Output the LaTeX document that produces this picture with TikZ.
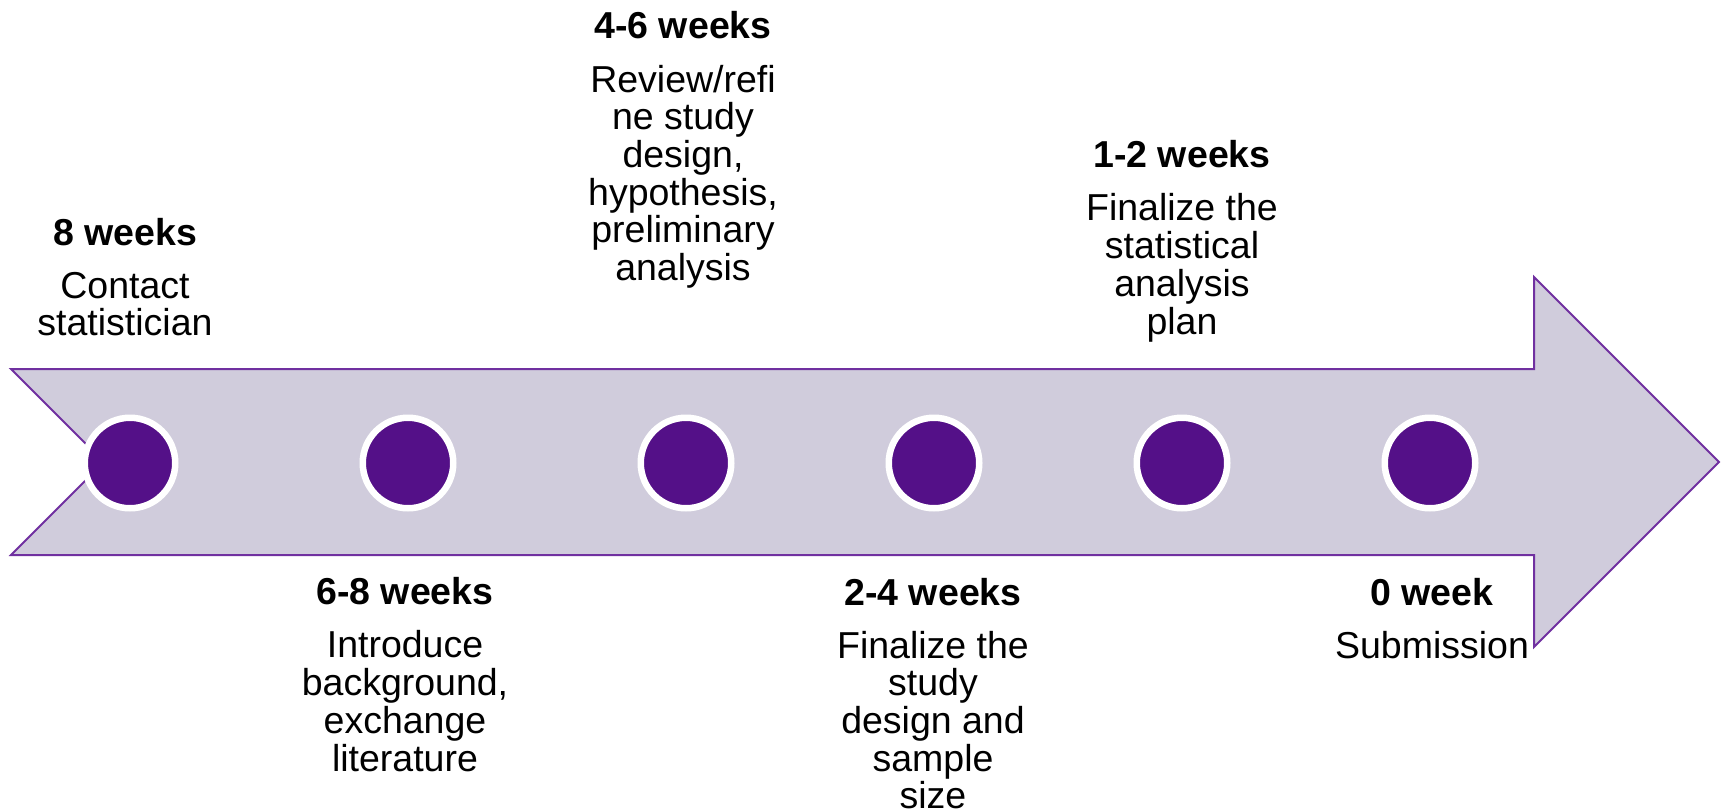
\documentclass[tikz,border=0pt]{standalone}
\usepackage{fontspec}
\setmainfont{Liberation Sans}
\definecolor{arrowfill}{HTML}{D0CCDC}
\definecolor{arrowline}{HTML}{7030A0}
\definecolor{dotpurple}{HTML}{541088}
\begin{document}
\begin{tikzpicture}[x=1pt,y=-1pt,
  dot/.style={circle, fill=dotpurple, draw=white, line width=6.5pt, minimum size=90.5pt, inner sep=0pt},
  lbl/.style={anchor=base, align=center, inner sep=0pt, font=\fontsize{37.5}{37.7}\selectfont}]
\useasboundingbox (0,0) rectangle (1727,811);
\draw[arrowline, fill=arrowfill, line width=2pt, line join=miter]
  (11,369) -- (1534,369) -- (1534,277) -- (1719,462) -- (1534,647) -- (1534,555) -- (11,555) -- (104,462) -- cycle;
\node[dot] (c1) at (130,463) {};
\node[dot] (c2) at (408,463) {};
\node[dot] (c3) at (686,463) {};
\node[dot] (c4) at (934,463) {};
\node[dot] (c5) at (1182,463) {};
\node[dot] (c6) at (1430,463) {};
% anchor = baseline of the last line
\node[lbl] (t1) at (125,335.7) {\textbf{8 weeks}\\[15.3pt]Contact\\statistician};
\node[lbl] (t2) at (405,771) {\textbf{6-8 weeks}\\[15.3pt]Introduce\\background,\\exchange\\literature};
\node[lbl] (t3) at (683,280.5) {\textbf{4-6 weeks}\\[16.3pt]Review/refi\\ne study\\design,\\hypothesis,\\preliminary\\analysis};
\node[lbl] (t4) at (933,808.8) {\textbf{2-4 weeks}\\[15.3pt]Finalize the\\study\\design and\\sample\\size};
\node[lbl] (t5) at (1182,334) {\textbf{1-2 weeks}\\[15.3pt]Finalize the\\statistical\\analysis\\plan};
\node[lbl] (t6) at (1432,658) {\textbf{0 week}\\[15.3pt]Submission};
\end{tikzpicture}
\end{document}
